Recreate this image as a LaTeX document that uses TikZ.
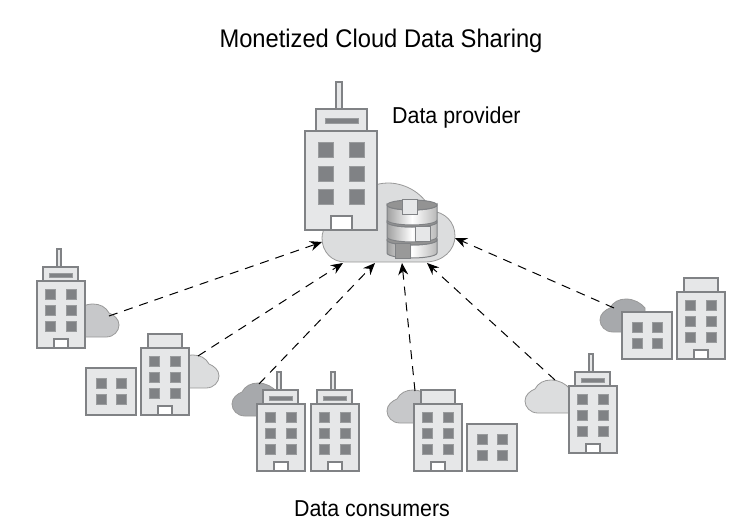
\documentclass[tikz,border=0pt]{standalone}
\usepackage{fontspec}
\setmainfont[FakeStretch=0.93]{Liberation Sans}
\usetikzlibrary{arrows.meta}
\definecolor{wallc}{HTML}{E6E7E8}
\definecolor{edgec}{HTML}{808285}
\definecolor{winc}{HTML}{808285}
\definecolor{cloudl}{HTML}{DCDDDE}
\definecolor{cloudm}{HTML}{C7C8CA}
\definecolor{cloudd}{HTML}{A7A9AC}
\tikzset{
 x=1pt,y=-1pt,
 wall/.style={draw=edgec,fill=wallc,line width=1.1pt},
 win/.style={draw=edgec!80,fill=winc,line width=0.6pt},
 doorb/.style={draw=edgec,fill=white,line width=1.1pt},
 cloudb/.style={draw=black!40,fill=#1,line width=0.8pt},
 link/.style={draw=black,dash pattern=on 9pt off 7pt,line width=1pt,-{Stealth[length=12pt,width=10pt,inset=4pt]}},
 lab/.style={font=\fontsize{23}{26}\selectfont,inner sep=0pt,text=black}
}
\newcommand{\winsix}[2]{\begin{scope}[shift={(#1,#2)}]
 \foreach \wy in {8,24,40}{\foreach \wx in {8,29}{\draw[win] (\wx,\wy) rectangle ++(10,10);}}
 \draw[doorb] (17,58) rectangle (31,67);
\end{scope}}
\newcommand{\towerplain}[2]{\begin{scope}[shift={(#1,#2)}]
 \draw[wall] (7,-14) rectangle (41,0);
 \draw[wall] (0,0) rectangle (48,67);
\end{scope}\winsix{#1}{#2}}
\newcommand{\towerant}[2]{\begin{scope}[shift={(#1,#2)}]
 \draw[wall] (20,-32) rectangle (24,-14);
 \draw[wall] (6,-14) rectangle (41,0);
 \draw[win] (12,-8) rectangle (35,-4);
 \draw[wall] (0,0) rectangle (48,67);
\end{scope}\winsix{#1}{#2}}
\newcommand{\lowb}[2]{\begin{scope}[shift={(#1,#2)}]
 \draw[wall] (0,0) rectangle (50,47);
 \foreach \wy in {10,26}{\foreach \wx in {10,30}{\draw[win] (\wx,\wy) rectangle ++(10,10);}}
\end{scope}}
\newcommand{\scloud}[4]{\begin{scope}[shift={(#1,#2)},xscale=#4]
 \draw[cloudb=#3] (-45,0) -- (-13,0)
  .. controls (-5,0) and (0,-6) .. (0,-12)
  .. controls (0,-18) and (-5,-22) .. (-10,-24)
  .. controls (-13,-30) and (-19,-33) .. (-26,-33)
  .. controls (-34,-33) and (-41,-29) .. (-45,-24) -- cycle;
\end{scope}}
\newcommand{\dbdisc}[2]{%
 \shade[left color=gray!75,right color=gray!55,middle color=white,draw=edgec,line width=1pt]
  (387,#1) -- (387,#2) arc[start angle=180,end angle=360,x radius=25,y radius=-5] -- (437,#1) arc[start angle=0,end angle=-180,x radius=25,y radius=-5] -- cycle;
 \draw[edgec,fill=gray!85,line width=1pt] (412,#1) ellipse[x radius=25,y radius=5];}
\begin{document}
\begin{tikzpicture}
\useasboundingbox (0,0) rectangle (732,522);
\node[lab,anchor=base,font=\fontsize{25.5}{28}\selectfont] (title) at (381,47) {Monetized Cloud Data Sharing};
\node[lab,anchor=base west] (prov) at (392,123) {Data provider};
\node[lab,anchor=base] (cons) at (372,516) {Data consumers};
\draw[cloudb=cloudl] (345,262) -- (425,262)
 .. controls (443,262) and (455,250) .. (455,236)
 .. controls (455,222) and (445,212) .. (431,211)
 .. controls (425,195) and (407,183) .. (388,183)
 .. controls (376,183) and (366,188) .. (360,195)
 -- (340,212)
 .. controls (330,218) and (322,228) .. (322,238)
 .. controls (322,252) and (332,262) .. (345,262) -- cycle;
\coordinate (h0) at (322,242);
\coordinate (h1) at (343,263);
\coordinate (h2) at (375,263);
\coordinate (h3) at (402,263);
\coordinate (h4) at (427,263);
\coordinate (h5) at (455,238);
\draw[wall] (336,82) rectangle (342,109);
\draw[wall] (316,109) rectangle (367,131);
\draw[win] (325,118) rectangle (358,123);
\draw[wall] (305,131) rectangle (377,230);
\foreach \wy in {142,166,189}{\foreach \wx in {318,349}{\draw[win] (\wx,\wy) rectangle ++(15,15);}}
\draw[doorb] (331,216) rectangle (352,230);
\dbdisc{240}{253}
\dbdisc{222}{237}
\dbdisc{205}{220}
\draw[wall,line width=.8pt] (402,199) rectangle (417,214);
\draw[wall,line width=.8pt] (415,226) rectangle (430,241);
\draw[edgec,fill=gray!80,line width=.8pt] (395,243) rectangle (410,258);
\scloud{119}{337}{cloudm}{1}
\scloud{219}{388}{cloudl}{1}
\scloud{232}{416}{cloudd}{-1}
\scloud{387}{423}{cloudm}{-1}
\scloud{525}{413}{cloudl}{-1}
\scloud{600}{332}{cloudd}{-1}
\towerant{37}{281}
\lowb{86}{368}
\towerplain{141}{348}
\towerant{257}{404}
\towerant{311}{404}
\towerplain{414}{404}
\lowb{467}{424}
\towerant{569}{386}
\lowb{622}{312}
\towerplain{677}{292}
\coordinate (c1) at (109,316);
\coordinate (c2) at (198,356);
\coordinate (c3) at (259,384);
\coordinate (c4) at (415,391);
\coordinate (c5) at (555,380);
\coordinate (c6) at (614,308);
\draw[link] (c1) -- (h0);
\draw[link] (c2) -- (h1);
\draw[link] (c3) -- (h2);
\draw[link] (c4) -- (h3);
\draw[link] (c5) -- (h4);
\draw[link] (c6) -- (h5);
\end{tikzpicture}
\end{document}
